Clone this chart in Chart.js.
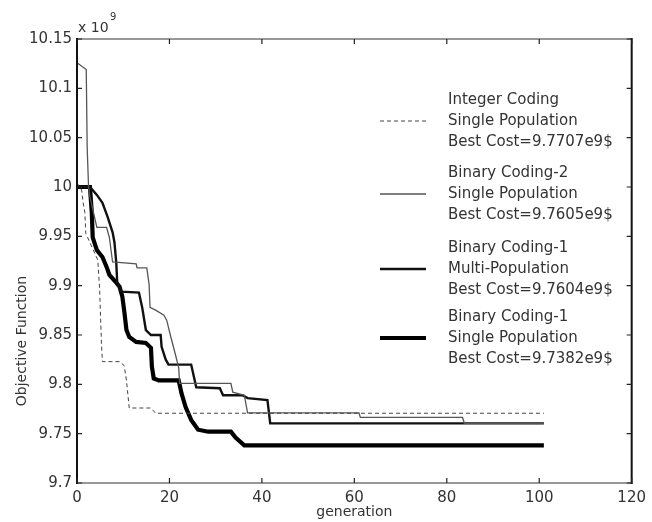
<!DOCTYPE html>
<html>
<head>
<meta charset="utf-8">
<script src="https://cdn.jsdelivr.net/npm/chart.js@4/dist/chart.umd.min.js"></script>
<style>
  html, body { margin: 0; padding: 0; background: #fff; }
</style>
</head>
<body>
<canvas id="gaChart" width="652" height="522"></canvas>
<script>
// best cost per generation (x 1e9 $)
const intGen  = [0, 1, 1.3, 1.7, 1.9, 4.5, 4.9, 5.3, 5.5, 9.2, 10.2, 10.7, 11.3, 16, 17, 101];
const intCost = [10.004, 9.997, 9.985, 9.974, 9.953, 9.926, 9.896, 9.840, 9.823, 9.823, 9.819, 9.804, 9.776, 9.776, 9.7707, 9.7707];

const bin2Gen  = [0, 2, 2.2, 2.5, 2.8, 4.3, 6.4, 7.0, 7.7, 12.8, 13.0, 15.1, 15.6, 15.8, 17.1, 18.8, 19.4, 20.3, 21.3, 22, 22.2, 33.3, 33.7, 36.2, 36.9, 61, 61.3, 83.4, 83.8, 101];
const bin2Cost = [10.126, 10.119, 10.04, 10.0, 9.99, 9.959, 9.959, 9.949, 9.924, 9.922, 9.918, 9.918, 9.901, 9.878, 9.875, 9.870, 9.865, 9.848, 9.830, 9.817, 9.801, 9.801, 9.792, 9.789, 9.771, 9.771, 9.7665, 9.7665, 9.7605, 9.7605];

const multiGen  = [0, 2.8, 4.3, 5.5, 6.6, 7.7, 8.1, 8.5, 8.7, 9.6, 13.4, 14.1, 14.9, 16, 18.1, 18.3, 19.2, 19.8, 24.7, 25.8, 30.9, 31.6, 35.8, 36.9, 41.2, 41.8, 101];
const multiCost = [10.0, 10.0, 9.992, 9.984, 9.970, 9.954, 9.944, 9.923, 9.903, 9.894, 9.893, 9.878, 9.855, 9.850, 9.850, 9.838, 9.825, 9.820, 9.820, 9.797, 9.796, 9.789, 9.789, 9.786, 9.784, 9.7604, 9.7604];

const singleGen  = [0, 2.8, 3.2, 3.4, 4.3, 5.5, 6.4, 7.0, 8.5, 9.2, 9.8, 10.2, 10.7, 11.3, 12.8, 14.9, 16, 16.2, 16.6, 17.7, 22, 22.6, 23.5, 24.7, 26.2, 28.4, 33.3, 34.3, 36.2, 101];
const singleCost = [10.0, 10.0, 9.974, 9.949, 9.936, 9.929, 9.919, 9.911, 9.903, 9.899, 9.889, 9.875, 9.855, 9.848, 9.843, 9.842, 9.837, 9.818, 9.806, 9.804, 9.804, 9.791, 9.777, 9.764, 9.754, 9.752, 9.752, 9.746, 9.7382, 9.7382];

const seriesNames = [
    ["Integer Coding", "Single Population"],
    ["Binary Coding-2", "Single Population"],
    ["Binary Coding-1", "Multi-Population"],
    ["Binary Coding-1", "Single Population"]
];

const xTicks = [0, 20, 40, 60, 80, 100, 120];
const yTicks = [9.7, 9.75, 9.8, 9.85, 9.9, 9.95, 10, 10.05, 10.1, 10.15];

const FONT = "'DejaVu Sans', sans-serif";

function toPoints(gen, cost) {
    return gen.map((g, i) => ({ x: g, y: cost[i] }));
}

function series(label, gen, cost, color, width, dash) {
    return {
        label: label,
        data: toPoints(gen, cost),
        showLine: true,
        borderColor: color,
        borderWidth: width,
        borderDash: dash || [],
        pointRadius: 0,
        tension: 0,
        fill: false,
        best: cost[cost.length - 1]
    };
}

// box, inward ticks, exponent, axis titles and legend
const framePlugin = {
    id: 'framePlugin',
    afterDraw(chart) {
        const ctx = chart.ctx;
        const a = chart.chartArea;
        const xs = chart.scales.x, ys = chart.scales.y;
        ctx.save();

        ctx.strokeStyle = '#777';
        ctx.lineWidth = 1.5;
        ctx.beginPath();
        ctx.moveTo(a.left, a.top); ctx.lineTo(a.right, a.top);
        ctx.moveTo(a.left, a.bottom); ctx.lineTo(a.right, a.bottom);
        ctx.stroke();
        ctx.strokeStyle = '#111';
        ctx.lineWidth = 2;
        ctx.beginPath();
        ctx.moveTo(a.left, a.top - 1); ctx.lineTo(a.left, a.bottom + 1);
        ctx.moveTo(a.right, a.top - 1); ctx.lineTo(a.right, a.bottom + 1);
        ctx.stroke();

        ctx.strokeStyle = '#222';
        ctx.lineWidth = 1.2;
        ctx.beginPath();
        xTicks.forEach(v => {
            const px = xs.getPixelForValue(v);
            ctx.moveTo(px, a.bottom); ctx.lineTo(px, a.bottom - 5);
            ctx.moveTo(px, a.top); ctx.lineTo(px, a.top + 5);
        });
        yTicks.forEach(v => {
            const py = ys.getPixelForValue(v);
            ctx.moveTo(a.left, py); ctx.lineTo(a.left + 5, py);
            ctx.moveTo(a.right, py); ctx.lineTo(a.right - 5, py);
        });
        ctx.stroke();

        ctx.fillStyle = '#333';
        ctx.textBaseline = 'middle';
        ctx.textAlign = 'left';
        ctx.font = '14px ' + FONT;
        ctx.fillText('x 10', a.left + 1, 28);
        ctx.font = '10px ' + FONT;
        ctx.fillText('9', a.left + 33, 17);

        ctx.font = '14px ' + FONT;
        ctx.textAlign = 'center';
        ctx.fillText('generation', (a.left + a.right) / 2, 512);
        ctx.save();
        ctx.translate(22, 341);
        ctx.rotate(-Math.PI / 2);
        ctx.fillText('Objective Function', 0, 0);
        ctx.restore();

        // legend
        const tops = [100, 173, 248, 317];
        ctx.font = '15px ' + FONT;
        ctx.textAlign = 'left';
        chart.data.datasets.forEach((ds, i) => {
            const lines = seriesNames[i].concat('Best Cost=' + ds.best + 'e9$');
            lines.forEach((t, k) => ctx.fillText(t, 448, tops[i] + k * 21));
            ctx.setLineDash(ds.borderDash);
            ctx.strokeStyle = ds.borderColor;
            ctx.lineWidth = ds.borderWidth;
            ctx.beginPath();
            ctx.moveTo(380, tops[i] + 21);
            ctx.lineTo(426, tops[i] + 21);
            ctx.stroke();
        });
        ctx.restore();
    }
};

new Chart(document.getElementById('gaChart'), {
    type: 'scatter',
    data: {
        datasets: [
            series('Integer Coding', intGen, intCost, '#444', 1, [4, 3]),
            series('Binary Coding-2', bin2Gen, bin2Cost, '#555', 1.3),
            series('Binary Coding-1 Multi', multiGen, multiCost, '#111', 2.4),
            series('Binary Coding-1 Single', singleGen, singleCost, '#000', 4.2)
        ]
    },
    options: {
        responsive: false,
        animation: false,
        layout: { padding: { left: 0, right: 12, top: 39, bottom: 0 } },
        plugins: { legend: { display: false }, tooltip: { enabled: false } },
        scales: {
            x: {
                type: 'linear',
                min: 0,
                max: 120,
                grid: { display: false, drawTicks: false },
                border: { display: false },
                afterBuildTicks: s => { s.ticks = xTicks.map(v => ({ value: v })); },
                afterFit: s => { s.height = 39; },
                ticks: { color: '#333', padding: 6, maxRotation: 0, font: { family: FONT, size: 15 } }
            },
            y: {
                min: 9.7,
                max: 10.15,
                grid: { display: false, drawTicks: false },
                border: { display: false },
                afterBuildTicks: s => { s.ticks = yTicks.map(v => ({ value: v })); },
                afterFit: s => { s.width = 77; },
                ticks: {
                    color: '#333',
                    padding: 5,
                    font: { family: FONT, size: 15 },
                    callback: v => String(parseFloat(v.toFixed(2)))
                }
            }
        }
    },
    plugins: [framePlugin]
});
</script>
</body>
</html>
